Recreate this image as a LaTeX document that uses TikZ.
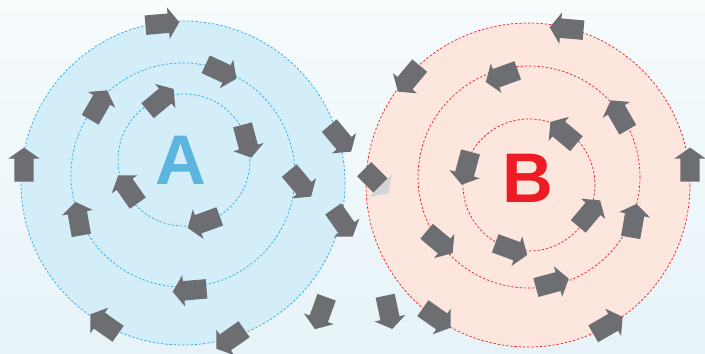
\documentclass[tikz,border=0pt]{standalone}
\usepackage{fontspec}
\setmainfont{Liberation Sans}
\usetikzlibrary{shapes.arrows}
\definecolor{Slate}{HTML}{6D6E71}
\definecolor{HeadGray}{HTML}{D3D5D6}
\definecolor{SkyLine}{HTML}{29ABE2}
\definecolor{SkyFill}{HTML}{D4EEF9}
\definecolor{SkyText}{HTML}{5BB5DF}
\definecolor{Scarlet}{HTML}{ED1C24}
\definecolor{Peach}{HTML}{FDE6DD}
\definecolor{BgTop}{HTML}{F7FCFD}
\definecolor{BgBot}{HTML}{E7F3F8}

\begin{document}
\begin{tikzpicture}[
    x=0.03cm, y=-0.03cm,
    blk/.style={single arrow, fill=Slate, draw=none, inner xsep=0pt,
                inner ysep=0.285cm, minimum height=1.02cm,
                single arrow head extend=0.18cm, single arrow tip angle=110},
    ringA/.style={draw=SkyLine, line width=0.6pt, dash pattern=on 2pt off 1.6pt},
    ringB/.style={draw=Scarlet, line width=0.6pt, dash pattern=on 2pt off 1.6pt},
    letter/.style={font=\fontsize{60}{60}\selectfont\bfseries, inner sep=0pt}
  ]
    \useasboundingbox[top color=BgTop, bottom color=BgBot] (0,0) rectangle (705,353);

    % circle A
    \fill[SkyFill] (183,183) circle[radius=162];
    \draw[ringA] (183,183) circle[radius=162];
    \draw[ringA] (183,175) circle[radius=112];
    \draw[ringA] (184,160) circle[radius=66];
    \node[letter, text=SkyText] (la) at (181,160) {A};

    % circle B
    \fill[Peach] (528,185) circle[radius=162];
    \draw[ringB] (528,185) circle[radius=162];
    \draw[ringB] (529,177) circle[radius=111];
    \draw[ringB] (529,185) circle[radius=66];
    \node[letter, text=Scarlet] (lb) at (528,178) {B};

    % arrows round A
    \node[blk, rotate=5] (a1) at (159,24) {};
    \node[blk, rotate=-25] (a2) at (218,70) {};
    \node[blk, rotate=60] (a3) at (97,108) {};
    \node[blk, rotate=40] (a4) at (158,102) {};
    \node[blk, rotate=-75] (a5) at (246,138) {};
    \node[blk, rotate=-50] (a6) at (338,136) {};
    \node[blk, rotate=90] (a7) at (24,168) {};
    \node[blk, rotate=-50] (a8) at (298,181) {};
    \node[blk, rotate=125] (a9) at (130,192) {};
    \node[blk, rotate=-55] (a10) at (341,220) {};
    \node[blk, rotate=100] (a11) at (79,222) {};
    \node[blk, rotate=200] (a12) at (207,221) {};
    \node[blk, rotate=185] (a13) at (193,290) {};
    \node[blk, rotate=145] (a14) at (107,326) {};
    \node[blk, rotate=215] (a15) at (233,337) {};
    \node[blk, rotate=250] (a16) at (322,310) {};

    % the one in between
    \node[blk, fill=HeadGray, rotate=-45] (m1) at (374,179) {};
    \fill[Slate] (m1.before head) -- (m1.after head) -- (m1.before tail) -- (m1.after tail) -- cycle;

    % arrows round B
    \node[blk, rotate=175] (b1) at (570,29) {};
    \node[blk, rotate=230] (b2) at (411,76) {};
    \node[blk, rotate=200] (b3) at (505,75) {};
    \node[blk, rotate=120] (b4) at (621,118) {};
    \node[blk, rotate=140] (b5) at (566,135) {};
    \node[blk, rotate=255] (b6) at (467,165) {};
    \node[blk, rotate=90] (b7) at (690,168) {};
    \node[blk, rotate=50] (b8) at (587,216) {};
    \node[blk, rotate=80] (b9) at (633,224) {};
    \node[blk, rotate=-40] (b10) at (437,240) {};
    \node[blk, rotate=-20] (b11) at (508,248) {};
    \node[blk, rotate=15] (b12) at (549,284) {};
    \node[blk, rotate=-35] (b13) at (434,316) {};
    \node[blk, rotate=-78] (b14) at (388,309) {};
    \node[blk, rotate=30] (b15) at (605,327) {};
  \end{tikzpicture}
\end{document}
